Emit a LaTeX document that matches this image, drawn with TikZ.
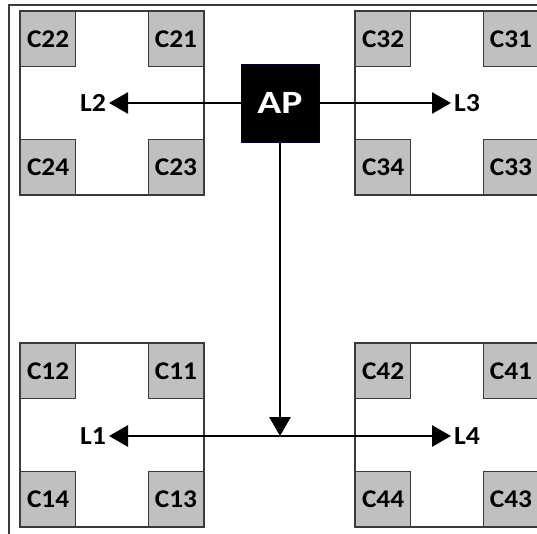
\documentclass[tikz,border=0pt]{standalone}
\usepackage{fontspec}
\setmainfont{Carlito}
\newfontfamily\cellfont[FakeStretch=1.07]{Carlito}
\newfontfamily\apfont[FakeStretch=1.22]{Carlito}
\usetikzlibrary{arrows.meta}
\definecolor{cellgray}{HTML}{C0C0C0}
\definecolor{edgegray}{HTML}{3A3A3A}
\tikzset{
  frameline/.style={draw=edgegray, line width=1.8pt},
  cluster/.style={draw=edgegray, line width=1.3pt, fill=white},
  cellbox/.style={draw=edgegray, line width=1.1pt, fill=cellgray, minimum width=55pt, minimum height=55pt, inner sep=0pt, font=\cellfont\bfseries\fontsize{25.5}{27}\selectfont},
  apbox/.style={draw=black!80!blue, line width=0.8pt, fill=black, text=white, minimum width=78pt, minimum height=78pt, inner sep=0pt, font=\apfont\bfseries\fontsize{32.5}{34}\selectfont},
  lab/.style={inner sep=0pt, outer sep=3pt, font=\cellfont\bfseries\fontsize{26}{28}\selectfont},
  arr/.style={line width=2.8pt, -{Triangle[width=21pt,length=19pt]}},
  biarr/.style={line width=2.8pt, {Triangle[width=21pt,length=19pt]}-{Triangle[width=21pt,length=19pt]}},
}
\newcommand{\cellgroup}[7]{%
  % #1 x left, #2 y top, #3 prefix name, #4..#7 labels: TL TR BL BR
  \draw[cluster] (#1,#2) rectangle ++(184,184);
  \node[cellbox, anchor=north west] (#3a) at (#1,#2) {#4};
  \node[cellbox, anchor=north east] (#3b) at (#1+184,#2) {#5};
  \node[cellbox, anchor=south west] (#3c) at (#1,#2+184) {#6};
  \node[cellbox, anchor=south east] (#3d) at (#1+184,#2+184) {#7};
}
\begin{document}
\begin{tikzpicture}[x=1pt,y=-1pt]
\useasboundingbox (0,0) rectangle (537,533);
\draw[frameline] (9,540) -- (9,5) -- (545,5);
\cellgroup{20}{11}{g2}{C22}{C21}{C24}{C23}
\cellgroup{355}{11}{g3}{C32}{C31}{C34}{C33}
\cellgroup{20}{343}{g1}{C12}{C11}{C14}{C13}
\cellgroup{355}{343}{g4}{C42}{C41}{C44}{C43}
\node[apbox] (AP) at (280,103) {AP};
\node[lab, anchor=east] (L2) at (109,103) {L2};
\node[lab, anchor=west] (L3) at (451,103) {L3};
\node[lab, anchor=east] (L1) at (109,436) {L1};
\node[lab, anchor=west] (L4) at (451,436) {L4};
\coordinate (J) at (280,436);
\draw[arr] (AP.west) -- (L2.east);
\draw[arr] (AP.east) -- (L3.west);
\draw[arr] (AP.south) -- (J);
\draw[biarr] (L1.east) -- (L4.west);
\end{tikzpicture}
\end{document}
